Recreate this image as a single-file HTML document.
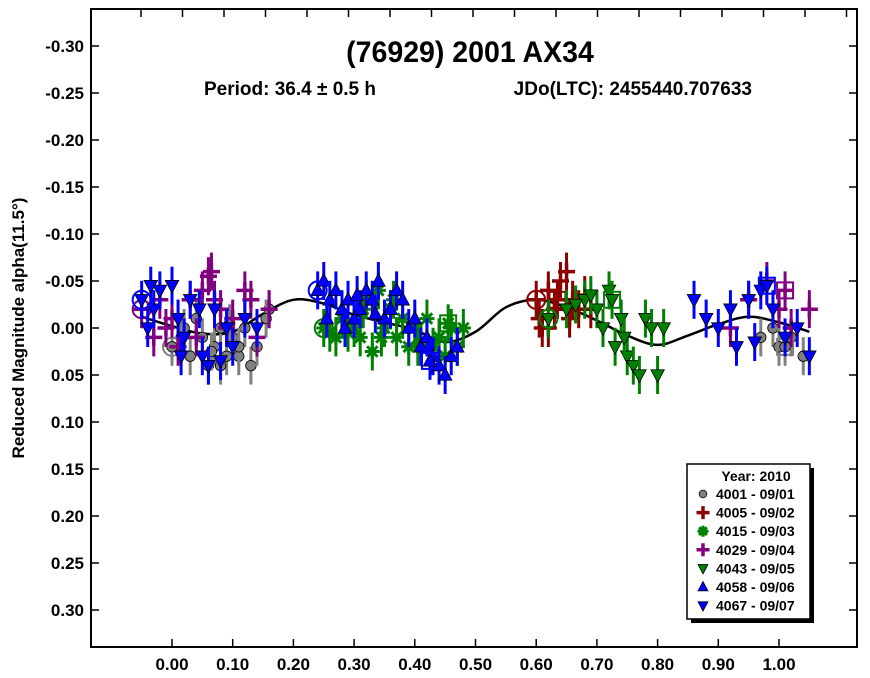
<!DOCTYPE html>
<html><head><meta charset="utf-8"><style>
body{margin:0;background:#fff;}
svg{display:block;font-family:"Liberation Sans",Arial,sans-serif;}
</style></head><body>
<svg id="chart" width="870" height="678" viewBox="0 0 870 678">
<rect x="91" y="9" width="766" height="638" fill="#fff" stroke="#000" stroke-width="2"/>
<g id="axes"></g>
<path id="curve" fill="none" stroke="#000" stroke-width="2.5"/>
<g id="pts"></g>
<text x="470" y="62" font-size="30" font-weight="bold" text-anchor="middle" transform="translate(470,0) scale(0.95,1) translate(-470,0)">(76929) 2001 AX34</text>
<text x="204" y="95" font-size="19" font-weight="bold">Period: 36.4 ± 0.5 h</text>
<text x="752" y="95" font-size="19" font-weight="bold" text-anchor="end">JDo(LTC): 2455440.707633</text>
<text transform="translate(24,328) rotate(-90)" font-size="17" font-weight="bold" text-anchor="middle">Reduced Magnitude alpha(11.5°)</text>
<g id="legend">
<rect x="691" y="468" width="123" height="155" fill="#000"/>
<rect x="687" y="464" width="123" height="155" fill="#fff" stroke="#000" stroke-width="1.5"/>
<text x="756" y="481" font-size="14" font-weight="bold" text-anchor="middle">Year: 2010</text>
</g>
</svg>
<script>
const yTicks=[-0.30,-0.25,-0.20,-0.15,-0.10,-0.05,0.00,0.05,0.10,0.15,0.20,0.25,0.30];
const xTicks=[0.0,0.1,0.2,0.3,0.4,0.5,0.6,0.7,0.8,0.9,1.0];
const curvePhase=[-0.05,0,0.05,0.1,0.15,0.2,0.25,0.3,0.35,0.4,0.45,0.5,0.55,0.6,0.65,0.7,0.75,0.8,0.85,0.9,0.95,1.0,1.05];
const curveMag=[-0.012,-0.002,0.006,0.004,-0.015,-0.03,-0.026,-0.014,-0.006,0.002,0.015,0.004,-0.022,-0.03,-0.022,-0.008,0.008,0.018,0.008,-0.004,-0.012,-0.006,0.004];
const series=["4001 - 09/01","4005 - 09/02","4015 - 09/03","4029 - 09/04","4043 - 09/05","4058 - 09/06","4067 - 09/07"];
const ph4001=[0.0,0.02,0.03,0.05,0.06,0.07,0.08,0.09,0.1,0.11,0.12,0.13,0.14,0.16,0.97,0.99,1.0,1.02,1.04,0.04,0.08,0.11,0.015,0.065,0.095,0.155,1.01];
const mg4001=[0.02,0.0,0.03,0.01,0.04,0.02,0.0,0.03,0.01,0.03,0.0,0.04,0.02,-0.02,0.01,0.0,0.02,0.01,0.03,-0.01,0.04,0.02,0.01,0.025,-0.005,-0.01,0.02];
const ph4005=[0.6,0.61,0.62,0.63,0.64,0.65,0.66,0.67,0.68,0.69,0.62,0.655,0.605,0.635];
const mg4005=[-0.03,0.0,-0.04,-0.02,-0.05,-0.06,-0.03,-0.02,-0.035,-0.02,0.0,-0.01,-0.01,-0.03];
const ph4015=[0.25,0.27,0.28,0.3,0.31,0.32,0.33,0.34,0.35,0.36,0.37,0.38,0.39,0.4,0.41,0.42,0.43,0.44,0.45,0.46,0.47,0.48,0.29,0.345,0.26,0.315,0.365,0.405,0.455];
const mg4015=[0.0,0.01,-0.01,0.0,0.01,-0.03,0.025,-0.04,0.0,-0.02,0.01,-0.01,0.02,0.0,0.015,-0.01,0.02,0.01,0.03,0.0,0.02,0.0,0.005,0.01,0.005,-0.02,-0.03,0.02,-0.005];
const ph4029=[-0.05,-0.03,-0.02,-0.01,0.0,0.01,0.03,0.05,0.06,0.07,0.08,0.1,0.12,0.14,0.16,0.92,0.95,0.98,1.0,1.02,1.05,0.04,0.13,0.065,0.09,1.01];
const mg4029=[-0.02,0.01,-0.03,0.0,-0.01,0.02,-0.03,-0.04,-0.055,-0.03,-0.02,-0.01,-0.04,0.01,-0.02,0.0,-0.03,-0.05,-0.02,0.0,-0.02,0.01,-0.03,-0.06,0.0,-0.04];
const ph4043=[0.62,0.65,0.68,0.7,0.71,0.72,0.73,0.74,0.75,0.76,0.77,0.78,0.79,0.8,0.81,0.69,0.745,0.665,0.725];
const mg4043=[-0.01,-0.02,-0.03,-0.02,0.0,-0.04,0.02,-0.01,0.03,0.04,0.05,-0.01,0.0,0.05,0.0,-0.035,0.01,-0.025,-0.03];
const ph4058=[0.24,0.25,0.26,0.27,0.28,0.29,0.3,0.31,0.32,0.33,0.34,0.35,0.36,0.37,0.38,0.39,0.4,0.41,0.42,0.43,0.44,0.45,0.46,0.47,0.255,0.285,0.305,0.335,0.425];
const mg4058=[-0.04,-0.05,-0.03,-0.04,-0.02,-0.03,-0.01,-0.02,-0.04,-0.03,-0.05,-0.01,-0.02,-0.04,-0.03,0.0,-0.01,0.02,0.01,0.03,0.04,0.05,0.03,0.02,-0.01,0.0,-0.035,-0.015,0.035];
const ph4067=[-0.05,-0.04,-0.03,-0.02,0.0,0.01,0.02,0.03,0.05,0.06,0.07,0.09,0.1,0.12,0.14,0.86,0.88,0.9,0.92,0.93,0.95,0.97,0.99,1.01,1.03,1.05,-0.035,0.015,0.045,0.08,0.96,0.98];
const mg4067=[-0.03,0.0,-0.02,-0.04,-0.045,-0.01,0.01,-0.03,0.03,0.04,-0.02,0.0,0.02,-0.01,0.0,-0.03,-0.01,0.0,-0.02,0.02,-0.03,-0.04,-0.02,0.01,0.0,0.03,-0.045,0.03,-0.02,0.035,0.015,-0.045];
const X=p=>172+p*607, Y=m=>328+m*940;
const NS="http://www.w3.org/2000/svg";
function mk(t,a,parent){const e=document.createElementNS(NS,t);for(const k in a)e.setAttribute(k,a[k]);parent.appendChild(e);return e;}
const ax=document.getElementById('axes');
yTicks.forEach(v=>{
 const l=mk('line',{x1:91,x2:99,y1:Y(v),y2:Y(v),stroke:'#000','stroke-width':1.5},ax);
 
 
 mk('line',{x1:849,x2:857,y1:Y(v),y2:Y(v),stroke:'#000','stroke-width':1.5},ax);
 const t=mk('text',{x:84,y:Y(v)+6,'font-size':17,'font-weight':'bold','text-anchor':'end'},ax);
 
 
 t.textContent=v.toFixed(2);
});
xTicks.forEach(v=>{
 const l=mk('line',{x1:X(v),x2:X(v),y1:639,y2:647,stroke:'#000','stroke-width':1.5},ax);
 
 
 const t=mk('text',{x:X(v),y:670,'font-size':17,'font-weight':'bold','text-anchor':'middle'},ax);
 
 
 t.textContent=v.toFixed(2);
});
for(let x=141;x<856;x+=41.5){mk('line',{x1:x,x2:x,y1:9,y2:17,stroke:'#000','stroke-width':1.5},ax);}
// smooth curve via Catmull-Rom through data points
(function(){
 const P=curvePhase.map((p,i)=>[X(p),Y(curveMag[i])]);
 let d='M'+P[0][0]+' '+P[0][1];
 for(let i=0;i<P.length-1;i++){
  const p0=P[Math.max(0,i-1)],p1=P[i],p2=P[i+1],p3=P[Math.min(P.length-1,i+2)];
  d+=`C${p1[0]+(p2[0]-p0[0])/6} ${p1[1]+(p2[1]-p0[1])/6},${p2[0]-(p3[0]-p1[0])/6} ${p2[1]-(p3[1]-p1[1])/6},${p2[0]} ${p2[1]}`;
 }
 document.getElementById('curve').setAttribute('d',d);
})();
const sets=[[ph4001,mg4001,'circle','#808080'],[ph4005,mg4005,'plus','#8b0000'],[ph4015,mg4015,'star','#008000'],[ph4029,mg4029,'plus','#800080'],[ph4043,mg4043,'down','#008000'],[ph4058,mg4058,'up','#0000ff'],[ph4067,mg4067,'down','#0000ff']];
const g=document.getElementById('pts');
function sym(type,x,y,c,par,s){s=s||7.5;
 if(type==='circle')return mk('circle',{cx:x,cy:y,r:s*0.7,fill:c,stroke:'#000','stroke-width':0.8},par);
 if(type==='plus')return mk('path',{d:`M${x-s-1} ${y}H${x+s+1}M${x} ${y-s-1}V${y+s+1}`,stroke:c,'stroke-width':3.5,fill:'none'},par);
 if(type==='star')return mk('path',{d:`M${x-s} ${y}H${x+s}M${x} ${y-s}V${y+s}M${x-s*.7} ${y-s*.7}L${x+s*.7} ${y+s*.7}M${x-s*.7} ${y+s*.7}L${x+s*.7} ${y-s*.7}`,stroke:c,'stroke-width':3,fill:'none'},par);
 if(type==='up')return mk('path',{d:`M${x} ${y-s}L${x+s*.9} ${y+s*.7}L${x-s*.9} ${y+s*.7}Z`,fill:c,stroke:'#000','stroke-width':0.8},par);
 return mk('path',{d:`M${x} ${y+s}L${x+s*.9} ${y-s*.7}L${x-s*.9} ${y-s*.7}Z`,fill:c,stroke:'#000','stroke-width':0.8},par);
}
sets.forEach((s,si)=>{
 const grp=mk('g',{},g);
 
 
 s[0].forEach((p,i)=>{
  const x=X(p),y=Y(s[1][i]);
  mk('line',{x1:x,x2:x,y1:y-19,y2:y+19,stroke:s[3],'stroke-width':3},grp);
  const m=sym(s[2],x,y,s[3],grp);
  
  
 });
 const n=s[0].length;
 mk('rect',{x:X(s[0][n-1])-8,y:Y(s[1][n-1])-8,width:16,height:16,fill:'none',stroke:s[3],'stroke-width':2},grp);
 mk('circle',{cx:X(s[0][0]),cy:Y(s[1][0]),r:9,fill:'none',stroke:s[3],'stroke-width':2},grp);
 const lg=document.getElementById('legend');
 const ly=499+si*18.6;
 sym(s[2],703,ly-5,s[3],lg,5.5);
 const t=mk('text',{x:716,y:ly,'font-size':14,'font-weight':'bold'},lg);
 
 
 t.textContent=series[si];
});
</script>
</body></html>
